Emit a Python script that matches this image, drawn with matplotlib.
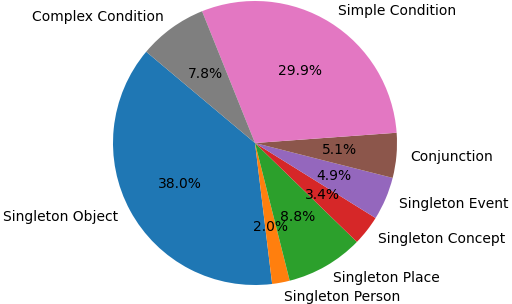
import matplotlib
matplotlib.use("Agg")
import matplotlib.pyplot as plt

categories = ["Singleton Object", "Singleton Person", "Singleton Place", "Singleton Concept",
              "Singleton Event", "Conjunction", "Simple Condition", "Complex Condition"]
values = [38.0, 2.0, 8.8, 3.4, 4.9, 5.1, 29.9, 7.8]

fig = plt.figure(figsize=(5.12, 3.04), dpi=100)
S = 340.8
ax = fig.add_axes([(255 - S / 2) / 512, (161 - S / 2) / 304, S / 512, S / 304])
ax.pie(values, labels=categories, autopct="%1.1f%%", startangle=140)
ax.set_xlim(-1.2, 1.2)
ax.set_ylim(-1.2, 1.2)
ax.set_aspect("equal")
fig.savefig("out.png", dpi=100)
